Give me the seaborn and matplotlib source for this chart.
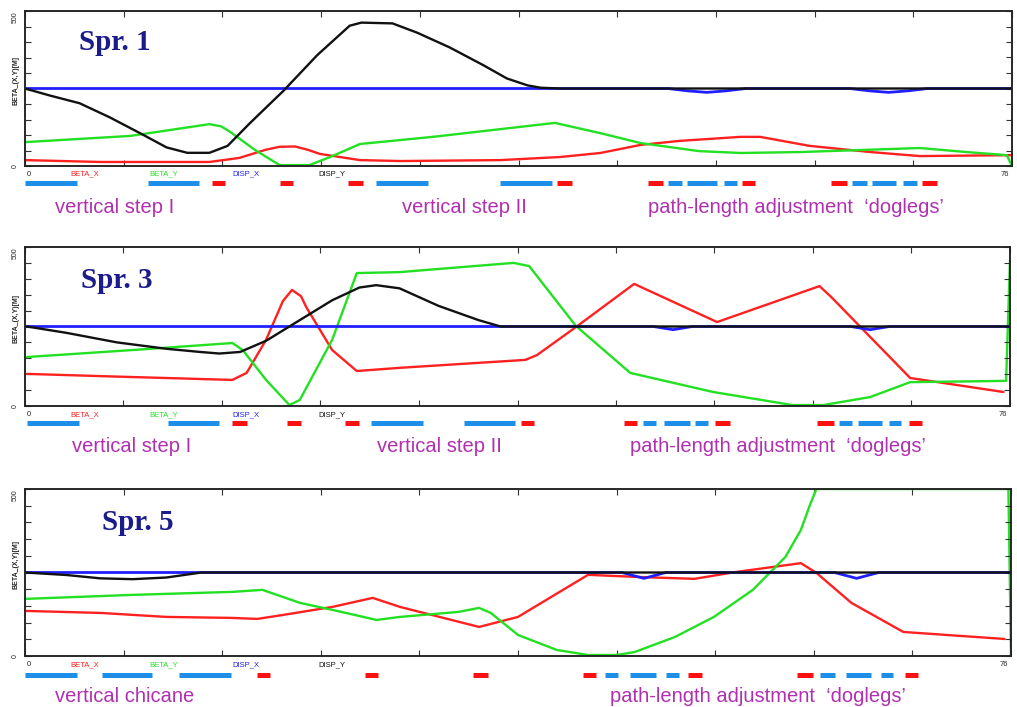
import numpy as np
import pandas as pd
import matplotlib
matplotlib.use("Agg")
import matplotlib.pyplot as plt
import matplotlib.transforms as mtransforms
import seaborn as sns

# ---------------- data (s in metres, beta in m, dispersion normalised) ----------------
# Panel Spr. 1
p1_bx_s = [0, 5.8, 14.2, 16.5, 18.5, 19.6, 20.8, 21.8, 22.7, 25.8, 28.9, 36.6, 41.2, 44.3, 47.4, 50.4, 55.1, 56.6, 60.4, 65.1, 68.9, 76]
p1_bx   = [19, 13, 13, 26, 52, 62, 63, 52, 39, 19, 16, 19, 29, 42, 68, 81, 94, 94, 65, 45, 32, 35]
p1_by_s = [0, 8.1, 14.2, 15.1, 15.8, 17.7, 19.6, 21.9, 23.5, 25.8, 31.4, 40.8, 44.3, 47.4, 51.9, 55.1, 59.7, 68.9, 72.5, 75.6, 76]
p1_by   = [77, 97, 135, 128, 110, 52, 3, 3, 29, 71, 94, 139, 106, 74, 48, 42, 45, 58, 45, 35, 0]
p1_dx_s = [0, 49.5, 51, 52.5, 54, 55.5, 63.5, 65, 66.5, 68, 69.5, 76]
p1_dx   = [0, 0, -0.03, -0.05, -0.03, 0, 0, -0.03, -0.05, -0.03, 0, 0]
p1_dy_s = [0, 1.9, 4.2, 6.5, 8.9, 10.9, 12.5, 14.2, 15.6, 17.3, 19.9, 22.5, 25.0, 25.9, 28.3, 30.2, 32.7, 35.3, 37.1, 38.7, 39.7, 41.2, 76]
p1_dy   = [0, -0.09, -0.19, -0.37, -0.58, -0.76, -0.83, -0.83, -0.74, -0.45, -0.03, 0.43, 0.81, 0.85, 0.84, 0.72, 0.53, 0.30, 0.13, 0.04, 0.01, 0, 0]
p1_blue_mag = [(0, 4.0), (9.5, 13.4), (27.0, 31.0), (36.6, 40.6), (49.5, 50.6), (51.0, 53.3), (53.8, 54.8),
               (63.7, 64.8), (65.2, 67.1), (67.6, 68.7)]
p1_red_mag = [(14.4, 15.4), (19.6, 20.6), (24.9, 26.0), (41.0, 42.1), (48.0, 49.1), (55.2, 56.2), (62.1, 63.3), (69.1, 70.2)]

# Panel Spr. 3
p2_bx_s = [0.15, 5.8, 10.9, 16.0, 17.1, 18.6, 19.9, 20.6, 21.3, 21.7, 23.7, 25.6, 28.9, 38.6, 39.5, 42.5, 47.0, 53.4, 61.3, 62.2, 68.3, 75.5]
p2_bx   = [101, 94, 88, 82, 104, 208, 330, 365, 345, 311, 176, 110, 120, 145, 160, 248, 384, 264, 377, 343, 88, 44]
p2_by_s = [0.15, 8.3, 16.0, 16.8, 18.6, 20.4, 21.2, 23.7, 25.6, 28.9, 37.7, 38.9, 42.5, 46.7, 53.1, 59.2, 61.6, 65.2, 68.3, 75.7, 76]
p2_by   = [154, 176, 198, 176, 82, 3, 19, 208, 418, 421, 450, 440, 252, 104, 44, 3, 3, 28, 75, 79, 460]
p2_dx_s = [0, 48.5, 50.0, 51.5, 63.7, 65.2, 66.7, 76]
p2_dx   = [0, 0, -0.04, 0, 0, -0.04, 0, 0]
p2_dy_s = [0.15, 3.2, 7.1, 10.9, 13.5, 15.0, 16.6, 18.6, 21.2, 23.7, 25.8, 27.1, 28.9, 31.9, 35.0, 36.7, 76]
p2_dy   = [0, -0.08, -0.2, -0.28, -0.32, -0.34, -0.32, -0.18, 0.08, 0.33, 0.49, 0.52, 0.48, 0.26, 0.08, 0, 0]
p2_blue_mag = [(0.15, 4.2), (11.0, 15.0), (26.7, 30.7), (33.9, 37.8), (47.7, 48.7), (49.3, 51.3), (51.7, 52.7),
               (62.8, 63.8), (64.3, 66.1), (66.7, 67.6)]
p2_red_mag = [(16.0, 17.1), (20.2, 21.3), (24.7, 25.8), (38.3, 39.3), (46.2, 47.2), (53.2, 54.4), (61.1, 62.4), (68.2, 69.2)]

# Panel Spr. 5
p3_bx_s = [0, 5.8, 10.9, 16.0, 17.9, 19.9, 23.7, 26.8, 28.9, 35.0, 38.0, 43.4, 47.0, 51.6, 54.7, 59.8, 61.0, 63.7, 67.7, 75.5]
p3_bx   = [135, 129, 117, 114, 111, 123, 147, 174, 147, 87, 117, 243, 237, 231, 251, 278, 249, 159, 72, 51]
p3_by_s = [0, 8.3, 16.0, 18.3, 21.2, 23.7, 27.1, 28.9, 33.4, 35.0, 35.9, 38.0, 41.0, 43.4, 45.6, 47.0, 50.1, 53.1, 56.1, 58.6, 59.8, 60.5, 61.0, 75.8, 76]
p3_by   = [171, 183, 192, 198, 159, 138, 108, 117, 132, 144, 129, 63, 18, 3, 3, 12, 57, 117, 198, 296, 377, 452, 500, 500, 0]
p3_dx_s = [0, 46.0, 47.7, 49.4, 62.4, 64.1, 65.8, 76]
p3_dx   = [0, 0, -0.07, 0, 0, -0.07, 0, 0]
p3_dy_s = [0, 3.2, 5.8, 8.3, 10.9, 13.6, 76]
p3_dy   = [0, -0.03, -0.07, -0.08, -0.06, 0, 0]
p3_blue_mag = [(0, 4.0), (5.9, 9.8), (11.9, 15.9), (44.7, 45.7), (46.6, 48.6), (49.4, 50.4),
               (61.3, 62.4), (63.3, 65.2), (66.0, 66.9)]
p3_red_mag = [(17.9, 18.9), (26.2, 27.2), (34.5, 35.7), (43.0, 44.0), (51.1, 52.2), (59.5, 60.7), (67.8, 68.8)]

panel_titles = ["Spr. 1", "Spr. 3", "Spr. 5"]
row_labels = ["BETA_X", "BETA_Y", "DISP_X", "DISP_Y"]
annotations = [
    ["vertical step I", "vertical step II", "path-length adjustment  \u2018doglegs\u2019"],
    ["vertical step I", "vertical step II", "path-length adjustment  \u2018doglegs\u2019"],
    ["vertical chicane", "path-length adjustment  \u2018doglegs\u2019"],
]

# ---------------- styling ----------------
sns.set_theme(style="white")
plt.rcParams["font.family"] = ["Liberation Sans", "DejaVu Sans"]

W, H = 1017, 707
fig = plt.figure(figsize=(W / 100, H / 100), dpi=100)
fig.patch.set_facecolor("white")

def fx(px):
    return px / W

def fy(py):
    return 1 - py / H

C_RED, C_GREEN, C_BLUE, C_BLACK = "#ff2020", "#22e022", "#1f1fff", "#111111"
C_LAT_BLUE, C_LAT_RED = "#1e8fe8", "#ff1010"
C_ANN = "#b030b0"
C_TITLE = "#1b1b8c"

panels = [
    dict(top=11, bot=166, right=1012, lat=183, title_xy=(79, 43),
         bx=(p1_bx_s, p1_bx), by=(p1_by_s, p1_by), dx=(p1_dx_s, p1_dx), dy=(p1_dy_s, p1_dy),
         blue=p1_blue_mag, red=p1_red_mag, ann_y=208, ann_x=[55, 402, 648]),
    dict(top=247, bot=406, right=1010, lat=423, title_xy=(81, 280),
         bx=(p2_bx_s, p2_bx), by=(p2_by_s, p2_by), dx=(p2_dx_s, p2_dx), dy=(p2_dy_s, p2_dy),
         blue=p2_blue_mag, red=p2_red_mag, ann_y=447, ann_x=[72, 377, 630]),
    dict(top=489, bot=656, right=1011, lat=675, title_xy=(102, 523),
         bx=(p3_bx_s, p3_bx), by=(p3_by_s, p3_by), dx=(p3_dx_s, p3_dx), dy=(p3_dy_s, p3_dy),
         blue=p3_blue_mag, red=p3_red_mag, ann_y=697, ann_x=[55, 610]),
]

for i, p in enumerate(panels):
    left = 25
    ax = fig.add_axes([fx(left), fy(p["bot"]), fx(p["right"]) - fx(left), (p["bot"] - p["top"]) / H])
    ax.set_facecolor("white")
    ax2 = ax.twinx()

    sns.lineplot(x=p["bx"][0], y=p["bx"][1], ax=ax, color=C_RED, lw=1.7, sort=False, estimator=None)
    sns.lineplot(x=p["by"][0], y=p["by"][1], ax=ax, color=C_GREEN, lw=1.7, sort=False, estimator=None)
    sns.lineplot(x=p["dx"][0], y=p["dx"][1], ax=ax2, color=C_BLUE, lw=2.0, sort=False, estimator=None)
    sns.lineplot(x=p["dy"][0], y=p["dy"][1], ax=ax2, color=C_BLACK, lw=1.7, sort=False, estimator=None)

    ax.set_xlim(0, 76)
    ax.set_ylim(0, 500)
    ax2.set_ylim(-1, 1)
    ax.set_xticks(np.linspace(0, 76, 11))
    ax.set_yticks(np.arange(0, 501, 50))
    ax2.set_yticks(np.linspace(-1, 1, 11))
    for a in (ax, ax2):
        a.set_xticklabels([])
        a.set_yticklabels([])
        a.set_xlabel("")
        a.set_ylabel("")
        a.grid(False)
        for sp in a.spines.values():
            sp.set_color("#222222")
            sp.set_linewidth(1.1)
    ax.tick_params(axis="both", direction="in", length=4, width=0.8, color="#333333",
                   top=True, bottom=True, left=True, right=False)
    ax2.tick_params(axis="y", direction="in", length=4, width=0.8, color="#333333")

    # y-axis texts
    ax.text(-0.006, 0.0, "0", transform=ax.transAxes, rotation=90, fontsize=5, ha="right", va="center")
    ax.text(-0.006, 1.0, "500", transform=ax.transAxes, rotation=90, fontsize=5, ha="right", va="top")
    ax.text(-0.006, 0.55, "BETA_(X,Y)[M]", transform=ax.transAxes, rotation=90, fontsize=5,
            ha="right", va="center", weight="bold")

    # label row under axis
    tr = mtransforms.blended_transform_factory(ax.transData, ax.transAxes)
    ax.text(0.1, -0.03, "0", transform=tr, fontsize=5.5, va="top", ha="left")
    ax.text(75.8, -0.03, "76", transform=tr, fontsize=5.5, va="top", ha="right")
    for lbl, xs, col in zip(row_labels, [3.5, 9.6, 16.0, 22.6], [C_RED, C_GREEN, C_BLUE, C_BLACK]):
        ax.text(xs, -0.03, lbl, transform=tr, fontsize=5.5, va="top", ha="left", color=col)

    # lattice row
    lat = fig.add_axes([fx(left), fy(p["lat"] + 5), fx(p["right"]) - fx(left), 10 / H])
    lat.set_xlim(0, 76)
    lat.set_ylim(0, 1)
    lat.axis("off")
    bs = [b[0] for b in p["blue"]]
    be = [b[1] for b in p["blue"]]
    rs = [r[0] for r in p["red"]]
    re_ = [r[1] for r in p["red"]]
    lat.hlines([0.5] * len(bs), bs, be, colors=C_LAT_BLUE, lw=3.6)
    lat.hlines([0.5] * len(rs), rs, re_, colors=C_LAT_RED, lw=3.6)

    # title
    tx, ty = p["title_xy"]
    fig.text(fx(tx), fy(ty), panel_titles[i], family=["Liberation Serif", "DejaVu Serif"],
             weight="bold", fontsize=21, color=C_TITLE, va="center", ha="left")

    # annotations
    for txt, axp in zip(annotations[i], p["ann_x"]):
        fig.text(fx(axp), fy(p["ann_y"]), txt, color=C_ANN, fontsize=14.5, va="center", ha="left")

fig.savefig("out.png", dpi=100, facecolor="white")
